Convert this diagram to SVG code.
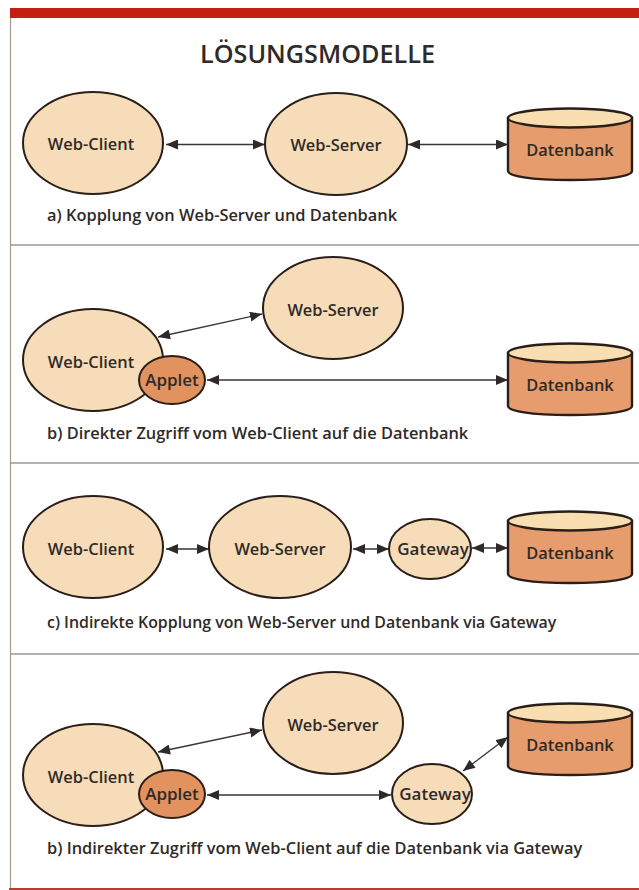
<svg xmlns="http://www.w3.org/2000/svg" width="639" height="890" viewBox="0 0 639 890">
<style>
text{font-family:"Open Sans","Noto Sans","Liberation Sans",sans-serif;font-weight:600;fill:#2f2a28;text-anchor:middle}
.n{font-size:16.4px}
.g{font-size:17px}
.c{font-size:16.4px;text-anchor:start}
.e{fill:#f6dcb8;stroke:#2a1e18;stroke-width:2}
.a{fill:#e2925e;stroke:#2a1e18;stroke-width:2}
.top{fill:#f8deb0;stroke:#2a1e18;stroke-width:2.4}
.body{fill:#e69c6c;stroke:#2a1e18;stroke-width:2.4}
.l{stroke:#3a3432;stroke-width:1.3;fill:none;marker-start:url(#s);marker-end:url(#m)}
.r{stroke:#6b6663;stroke-width:1.2}
</style>
<defs>
<marker id="m" markerUnits="userSpaceOnUse" markerWidth="13" markerHeight="11" refX="12" refY="5" orient="auto"><path d="M0 0L12 5L0 10z" fill="#2f2a28"/></marker>
<marker id="s" markerUnits="userSpaceOnUse" markerWidth="13" markerHeight="11" refX="0" refY="5" orient="auto"><path d="M12 0L0 5L12 10z" fill="#2f2a28"/></marker>
<g id="db"><path class="body" d="M508 118V171C508 176 530 180 570 180S632 176 632 171V118z"/><ellipse class="top" cx="570" cy="118" rx="62" ry="9.500"/></g>
</defs>
<rect width="639" height="890" fill="#fff"/>
<rect x="10" y="8" width="629" height="10" fill="#c4200f"/>
<rect x="9" y="888" width="630" height="2" fill="#b5402a"/>
<line x1="10.500" y1="18" x2="10.500" y2="888" stroke="#a39a90" stroke-width="1.200"/>
<g id="rules"><line class="r" x1="11" y1="245" x2="639" y2="245"/><line class="r" x1="11" y1="463" x2="639" y2="463"/><line class="r" x1="11" y1="654" x2="639" y2="654"/></g>
<text x="317.500" y="63" style="font-size:25.200px">LÖSUNGSMODELLE</text>
<g id="connectors">
<line class="l" x1="166" y1="144.500" x2="265" y2="144.500"/>
<line class="l" x1="408" y1="144.500" x2="508" y2="144.500"/>
<line class="l" x1="158" y1="337" x2="262" y2="314"/>
<line class="l" x1="207" y1="380" x2="508" y2="380"/>
<line class="l" x1="166" y1="549" x2="209" y2="549"/>
<line class="l" x1="353" y1="549" x2="389" y2="549"/>
<line class="l" x1="472" y1="548" x2="508" y2="548"/>
<line class="l" x1="158" y1="752" x2="262" y2="730"/>
<line class="l" x1="207" y1="795" x2="391" y2="795"/>
<line class="l" x1="463" y1="771" x2="508" y2="737"/>
</g>
<g id="panel-a">
<g id="a-client"><ellipse class="e" cx="93" cy="143" rx="70" ry="51"/><text class="n" x="91" y="150">Web-Client</text></g>
<g id="a-server"><ellipse class="e" cx="336" cy="144" rx="71" ry="51"/><text class="n" x="336" y="150.500">Web-Server</text></g>
<g id="a-db"><use href="#db"/><text class="n" x="570" y="156">Datenbank</text></g>
<text class="c" x="47" y="221">a) Kopplung von Web-Server und Datenbank</text>
</g>
<g id="panel-b">
<g id="b-server"><ellipse class="e" cx="333" cy="308" rx="70" ry="51"/><text class="n" x="333" y="316">Web-Server</text></g>
<g id="b-client"><ellipse class="e" cx="93" cy="360" rx="70" ry="51"/><text class="n" x="91" y="368">Web-Client</text></g>
<g id="b-applet"><ellipse class="a" cx="172" cy="380" rx="33" ry="24"/><text class="g" x="172" y="386">Applet</text></g>
<g id="b-db"><use href="#db" y="235"/><text class="n" x="570" y="391">Datenbank</text></g>
<text class="c" x="47" y="439">b) Direkter Zugriff vom Web-Client auf die Datenbank</text>
</g>
<g id="panel-c">
<g id="c-client"><ellipse class="e" cx="93" cy="547" rx="70" ry="51"/><text class="n" x="91" y="554.500">Web-Client</text></g>
<g id="c-server"><ellipse class="e" cx="280" cy="547" rx="71" ry="51"/><text class="n" x="280" y="554.500">Web-Server</text></g>
<g id="c-gateway"><ellipse class="e" cx="430" cy="549" rx="41" ry="30"/><text class="g" x="433" y="555">Gateway</text></g>
<g id="c-db"><use href="#db" y="403"/><text class="n" x="570" y="559">Datenbank</text></g>
<text class="c" style="font-size:15.900px" x="47" y="628">c) Indirekte Kopplung von Web-Server und Datenbank via Gateway</text>
</g>
<g id="panel-d">
<g id="d-server"><ellipse class="e" cx="333" cy="723" rx="70" ry="51"/><text class="n" x="333" y="730.500">Web-Server</text></g>
<g id="d-client"><ellipse class="e" cx="93" cy="775" rx="70" ry="51"/><text class="n" x="91" y="783">Web-Client</text></g>
<g id="d-applet"><ellipse class="a" cx="172" cy="794" rx="33" ry="24"/><text class="g" x="172" y="800">Applet</text></g>
<g id="d-gateway"><ellipse class="e" cx="432" cy="794" rx="40" ry="30"/><text class="g" x="435" y="800">Gateway</text></g>
<g id="d-db"><use href="#db" y="595"/><text class="n" x="570" y="751">Datenbank</text></g>
<text class="c" x="47" y="854">b) Indirekter Zugriff vom Web-Client auf die Datenbank via Gateway</text>
</g>
</svg>
